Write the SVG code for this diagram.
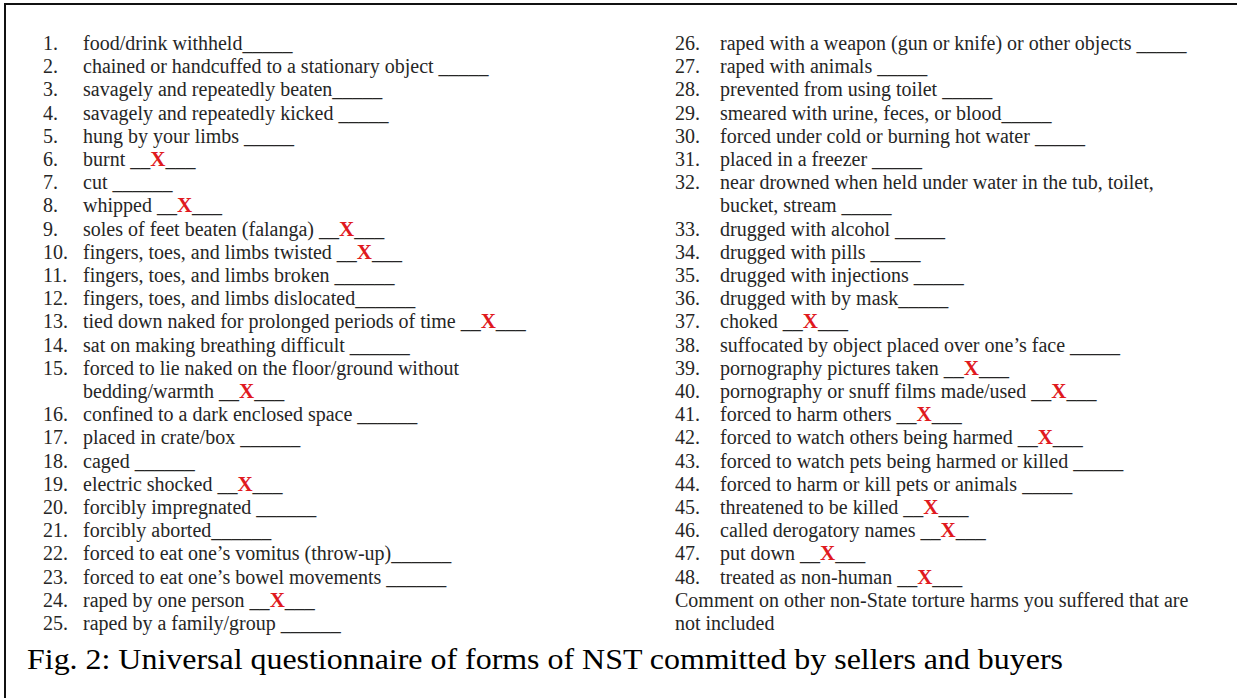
<svg xmlns="http://www.w3.org/2000/svg" width="1237" height="698" viewBox="0 0 1237 698">
<style>
.t{font-family:"Liberation Serif","Times New Roman",serif;font-size:20px;fill:#262626}
.x{fill:#e0191e;font-weight:bold;font-size:21px}
.cap{font-family:"Liberation Serif","Times New Roman",serif;font-size:30px;fill:#000}
</style>
<rect width="1237" height="698" fill="#fff"/>
<rect x="5" y="4" width="1250" height="710" fill="none" stroke="#111" stroke-width="2"/>
<g id="left-numbers" class="t">
<text x="43" y="50">1.</text>
<text x="43" y="73.2">2.</text>
<text x="43" y="96.4">3.</text>
<text x="43" y="119.6">4.</text>
<text x="43" y="142.8">5.</text>
<text x="43" y="166">6.</text>
<text x="43" y="189.2">7.</text>
<text x="43" y="212.4">8.</text>
<text x="43" y="235.6">9.</text>
<text x="43" y="258.8">10.</text>
<text x="43" y="282">11.</text>
<text x="43" y="305.2">12.</text>
<text x="43" y="328.4">13.</text>
<text x="43" y="351.6">14.</text>
<text x="43" y="374.8">15.</text>
<text x="43" y="421.2">16.</text>
<text x="43" y="444.4">17.</text>
<text x="43" y="467.6">18.</text>
<text x="43" y="490.8">19.</text>
<text x="43" y="514">20.</text>
<text x="43" y="537.2">21.</text>
<text x="43" y="560.4">22.</text>
<text x="43" y="583.6">23.</text>
<text x="43" y="606.8">24.</text>
<text x="43" y="630">25.</text>
</g>
<g id="left-items" class="t">
<text x="83" y="50">food/drink withheld_____</text>
<text x="83" y="73.2">chained or handcuffed to a stationary object _____</text>
<text x="83" y="96.4">savagely and repeatedly beaten_____</text>
<text x="83" y="119.6">savagely and repeatedly kicked _____</text>
<text x="83" y="142.8">hung by your limbs _____</text>
<text x="83" y="166">burnt __<tspan class="x">X</tspan>___</text>
<text x="83" y="189.2">cut ______</text>
<text x="83" y="212.4">whipped __<tspan class="x">X</tspan>___</text>
<text x="83" y="235.6">soles of feet beaten (falanga) __<tspan class="x">X</tspan>___</text>
<text x="83" y="258.8">fingers, toes, and limbs twisted __<tspan class="x">X</tspan>___</text>
<text x="83" y="282">fingers, toes, and limbs broken ______</text>
<text x="83" y="305.2">fingers, toes, and limbs dislocated______</text>
<text x="83" y="328.4">tied down naked for prolonged periods of time __<tspan class="x">X</tspan>___</text>
<text x="83" y="351.6">sat on making breathing difficult ______</text>
<text x="83" y="374.8">forced to lie naked on the floor/ground without</text>
<text x="83" y="398">bedding/warmth __<tspan class="x">X</tspan>___</text>
<text x="83" y="421.2">confined to a dark enclosed space ______</text>
<text x="83" y="444.4">placed in crate/box ______</text>
<text x="83" y="467.6">caged ______</text>
<text x="83" y="490.8">electric shocked __<tspan class="x">X</tspan>___</text>
<text x="83" y="514">forcibly impregnated ______</text>
<text x="83" y="537.2">forcibly aborted______</text>
<text x="83" y="560.4">forced to eat one’s vomitus (throw-up)______</text>
<text x="83" y="583.6">forced to eat one’s bowel movements ______</text>
<text x="83" y="606.8">raped by one person __<tspan class="x">X</tspan>___</text>
<text x="83" y="630">raped by a family/group ______</text>
</g>
<g id="right-numbers" class="t">
<text x="675" y="50">26.</text>
<text x="675" y="73.2">27.</text>
<text x="675" y="96.4">28.</text>
<text x="675" y="119.6">29.</text>
<text x="675" y="142.8">30.</text>
<text x="675" y="166">31.</text>
<text x="675" y="189.2">32.</text>
<text x="675" y="235.6">33.</text>
<text x="675" y="258.8">34.</text>
<text x="675" y="282">35.</text>
<text x="675" y="305.2">36.</text>
<text x="675" y="328.4">37.</text>
<text x="675" y="351.6">38.</text>
<text x="675" y="374.8">39.</text>
<text x="675" y="398">40.</text>
<text x="675" y="421.2">41.</text>
<text x="675" y="444.4">42.</text>
<text x="675" y="467.6">43.</text>
<text x="675" y="490.8">44.</text>
<text x="675" y="514">45.</text>
<text x="675" y="537.2">46.</text>
<text x="675" y="560.4">47.</text>
<text x="675" y="583.6">48.</text>
</g>
<g id="right-items" class="t">
<text x="720" y="50">raped with a weapon (gun or knife) or other objects _____</text>
<text x="720" y="73.2">raped with animals _____</text>
<text x="720" y="96.4">prevented from using toilet _____</text>
<text x="720" y="119.6">smeared with urine, feces, or blood_____</text>
<text x="720" y="142.8">forced under cold or burning hot water  _____</text>
<text x="720" y="166">placed in a freezer _____</text>
<text x="720" y="189.2">near drowned when held under water in the tub, toilet,</text>
<text x="720" y="212.4">bucket, stream _____</text>
<text x="720" y="235.6">drugged with alcohol _____</text>
<text x="720" y="258.8">drugged with pills _____</text>
<text x="720" y="282">drugged with injections _____</text>
<text x="720" y="305.2">drugged with by mask_____</text>
<text x="720" y="328.4">choked __<tspan class="x">X</tspan>___</text>
<text x="720" y="351.6">suffocated by object placed over one’s face _____</text>
<text x="720" y="374.8">pornography pictures taken __<tspan class="x">X</tspan>___</text>
<text x="720" y="398">pornography or snuff films made/used __<tspan class="x">X</tspan>___</text>
<text x="720" y="421.2">forced to harm others __<tspan class="x">X</tspan>___</text>
<text x="720" y="444.4">forced to watch others being harmed __<tspan class="x">X</tspan>___</text>
<text x="720" y="467.6">forced to watch pets being harmed or killed _____</text>
<text x="720" y="490.8">forced to harm or kill pets or animals _____</text>
<text x="720" y="514">threatened to be killed __<tspan class="x">X</tspan>___</text>
<text x="720" y="537.2">called derogatory names __<tspan class="x">X</tspan>___</text>
<text x="720" y="560.4">put down __<tspan class="x">X</tspan>___</text>
<text x="720" y="583.6">treated as non-human __<tspan class="x">X</tspan>___</text>
<text x="675" y="606.8">Comment on other non-State torture harms you suffered that are</text>
<text x="675" y="630">not included</text>
</g>
<g id="caption">
<text class="cap" x="27" y="669" textLength="1036" lengthAdjust="spacingAndGlyphs">Fig. 2: Universal questionnaire of forms of NST committed by sellers and buyers</text>
</g>
</svg>
